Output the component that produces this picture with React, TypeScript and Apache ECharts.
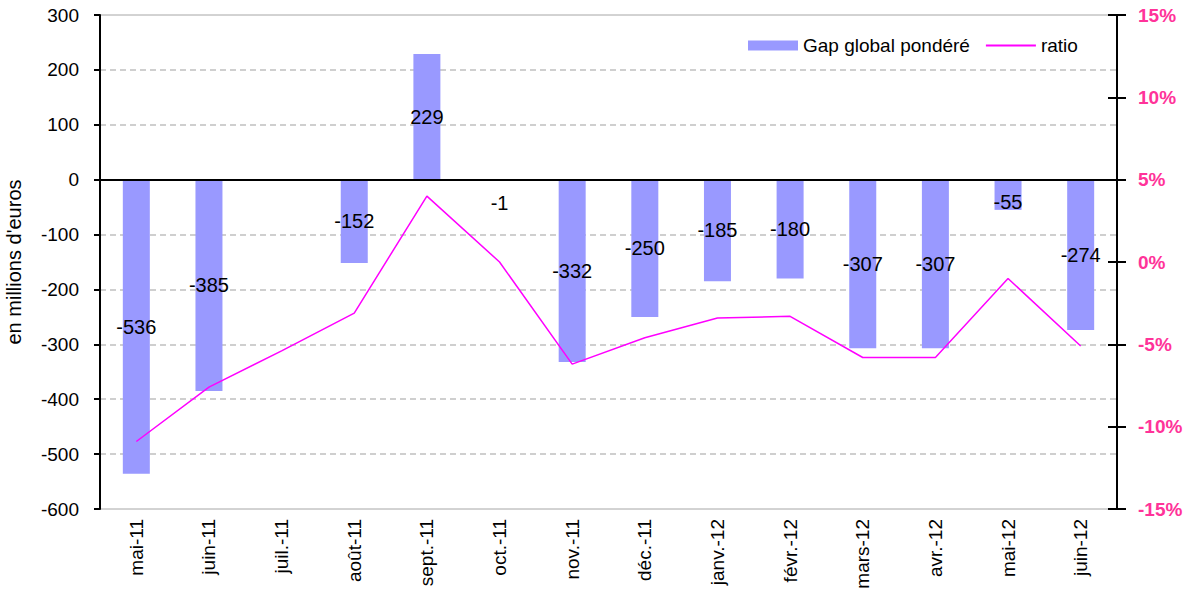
import React, { useEffect, useRef } from "react";
import * as echarts from "echarts";

const categories = ["mai-11", "juin-11", "juil.-11", "août-11", "sept.-11", "oct.-11", "nov.-11", "déc.-11", "janv.-12", "févr.-12", "mars-12", "avr.-12", "mai-12", "juin-12"];
const gapValues: (number | null)[] = [-536, -385, null, -152, 229, -1, -332, -250, -185, -180, -307, -307, -55, -274];
const ratioValues = [-0.109, -0.076, -0.054, -0.031, 0.040, 0.000, -0.062, -0.046, -0.034, -0.033, -0.058, -0.058, -0.010, -0.051];
const leftTicks = { min: -600, max: 300, interval: 100 };
const rightTicks = { min: -0.15, max: 0.15, interval: 0.05 };

const FONT = "'Liberation Sans', Arial, sans-serif";

export default function App() {
  const ref = useRef<HTMLDivElement>(null);
  useEffect(() => {
    if (!ref.current) return;
    const chart = echarts.init(ref.current, null, { renderer: "svg" });
    const pct = (v: number) => {
      const r = Math.round(v * 100);
      return (r === 0 ? 0 : r) + "%";
    };
    const barData = gapValues.map((v) => {
      if (v === null) return "-";
      if (v === -1) return { value: v, label: { offset: [0, 23] } };
      if (v === -55) return { value: v, label: { offset: [0, 7] } };
      return v;
    });
    chart.setOption({
      animation: false,
      textStyle: { fontFamily: FONT },
      grid: {
        left: 100, right: 71, top: 15, bottom: 101,
        containLabel: false, outerBoundsMode: "none",
        show: true, borderColor: "#a6a6a6", borderWidth: 1,
      },
      legend: {
        left: 748,
        top: 36,
        padding: 0,
        itemWidth: 50,
        itemHeight: 10,
        itemGap: 15,
        textStyle: { fontSize: 19, color: "#000", fontFamily: FONT },
        data: [
          { name: "Gap global pondéré", icon: "rect" },
          { name: "ratio", itemStyle: { opacity: 0 }, lineStyle: { width: 2, color: "#ff00ff" } },
        ],
      },
      xAxis: [
        {
          type: "category",
          data: categories,
          axisLine: { show: false, onZero: false },
          axisTick: { show: false },
          axisLabel: { rotate: 90, fontSize: 19, color: "#000", margin: 10, fontFamily: FONT },
        },
      ],
      yAxis: [
        {
          type: "value",
          position: "left",
          ...leftTicks,
          name: "en millions d'euros",
          nameLocation: "middle",
          nameGap: 76,
          nameTextStyle: { fontSize: 20, color: "#000", fontFamily: FONT },
          axisLine: { show: true, lineStyle: { color: "#000", width: 2 } },
          axisTick: { show: true, length: 6, lineStyle: { color: "#000", width: 2 } },
          axisLabel: { fontSize: 19, color: "#000", margin: 21, fontFamily: FONT },
          splitLine: { show: true, showMinLine: false, showMaxLine: false, lineStyle: { color: "#c0c0c0", type: [6, 4], width: 1.5 } },
        },
        {
          type: "value",
          position: "right",
          ...rightTicks,
          axisLine: { show: true, lineStyle: { color: "#000", width: 2 } },
          axisTick: { show: true, length: 9, lineStyle: { color: "#000", width: 2 } },
          axisLabel: { fontSize: 19, fontWeight: "bold", color: "#ff3399", margin: 21, formatter: pct, fontFamily: FONT },
          splitLine: { show: false },
        },
        {
          type: "value",
          position: "right",
          ...rightTicks,
          axisLine: { show: false },
          axisTick: { show: true, inside: true, length: 9, lineStyle: { color: "#000", width: 2 } },
          axisLabel: { show: false },
          splitLine: { show: false },
        },
      ],
      series: [
        {
          name: "Gap global pondéré",
          type: "bar",
          yAxisIndex: 0,
          data: barData,
          barWidth: 27,
          itemStyle: { color: "#9999ff" },
          label: { show: true, position: "inside", color: "#000", fontSize: 20, fontFamily: FONT },
          markLine: {
            silent: true,
            symbol: "none",
            label: { show: false },
            lineStyle: { color: "#000", width: 2, type: "solid" },
            data: [{ yAxis: 0 }],
          },
        },
        {
          name: "ratio",
          type: "line",
          yAxisIndex: 1,
          data: ratioValues,
          symbol: "none",
          lineStyle: { color: "#ff00ff", width: 1.5 },
          itemStyle: { color: "#ff00ff" },
        },
      ],
    });
    return () => chart.dispose();
  }, []);
  return <div ref={ref} style={{ position: "fixed", left: 0, top: 0, width: 1188, height: 610, background: "#fff" }} />;
}
